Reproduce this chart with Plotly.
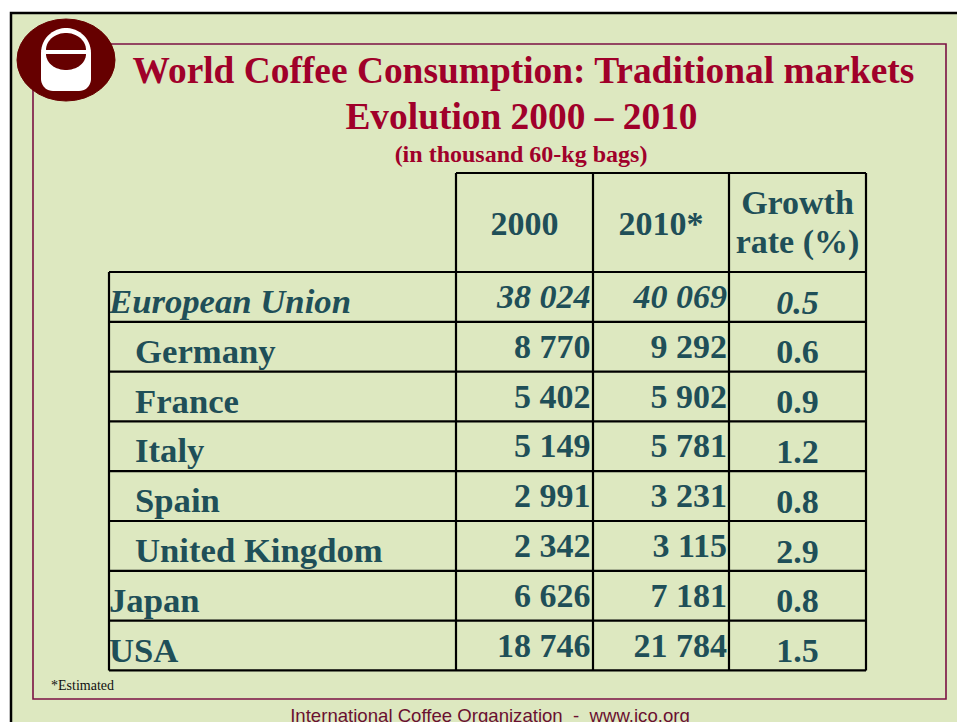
import numpy as np
import plotly.graph_objects as go

# ---------------- data ----------------
title_lines = ["World Coffee Consumption: Traditional markets", "Evolution 2000 \u2013 2010"]
subtitle = "(in thousand 60-kg bags)"
header_line1 = ["2000", "2010*", "Growth"]
header_line2 = ["", "", "rate (%)"]
countries = ["European Union", "Germany", "France", "Italy", "Spain",
             "United Kingdom", "Japan", "USA"]
is_eu_member = [False, True, True, True, True, True, False, False]
is_aggregate = [True, False, False, False, False, False, False, False]
values_2000 = [38024, 8770, 5402, 5149, 2991, 2342, 6626, 18746]
values_2010 = [40069, 9292, 5902, 5781, 3231, 3115, 7181, 21784]
growth_rate = [0.5, 0.6, 0.9, 1.2, 0.8, 2.9, 0.8, 1.5]
footnote = "*Estimated"
footer = "International Coffee Organization\u00a0\u00a0-\u00a0\u00a0www.ico.org"

# ---------------- style / layout constants ----------------
W, H = 957, 722
BG = "#DDE8C0"
TITLE_C = "#A0002A"
TEXT_C = "#1F4F58"
FRAME_C = "#7B1143"
LOGO_C = "#660000"
SERIF = "Liberation Serif, Times New Roman, serif"
SANS = "Liberation Sans, Arial, sans-serif"
COL_X = [109, 456, 593, 729, 866]
HEAD_TOP = 173
ROW_TOP = 272
ROW_H = 49.8
FS = 34
FS_NAME = 34.7
K = 0.25  # baseline offset factor for plotly middle-aligned text

fig = go.Figure()


def add_text(xs, baselines, texts, size, color, family, pos):
    ys = [b - K * size for b in baselines]
    fig.add_trace(go.Scatter(
        x=xs, y=ys, text=texts, mode="text", textposition=pos,
        textfont=dict(size=size, color=color, family=family),
        hoverinfo="skip", showlegend=False, cliponaxis=False))


def fmt(v):
    return f"{v:,}".replace(",", " ")


def wrap(t, agg):
    return f"<b><i>{t}</i></b>" if agg else f"<b>{t}</b>"


n = len(countries)
row_tops = [ROW_TOP + i * ROW_H for i in range(n)]

# names
add_text([COL_X[0] + (26 if m else 0) for m in is_eu_member],
         [t + 41 for t in row_tops],
         [wrap(c, a) for c, a in zip(countries, is_aggregate)],
         FS_NAME, TEXT_C, SERIF, "middle right")
# 2000 values
add_text([COL_X[2] - 2.5] * n, [t + 36 for t in row_tops],
         [wrap(fmt(v), a) for v, a in zip(values_2000, is_aggregate)],
         FS, TEXT_C, SERIF, "middle left")
# 2010 values
add_text([COL_X[3] - 2] * n, [t + 36 for t in row_tops],
         [wrap(fmt(v), a) for v, a in zip(values_2010, is_aggregate)],
         FS, TEXT_C, SERIF, "middle left")
# growth
add_text([(COL_X[3] + COL_X[4]) / 2] * n, [t + 41.5 for t in row_tops],
         [wrap(f"{g:.1f}", a) for g, a in zip(growth_rate, is_aggregate)],
         FS, TEXT_C, SERIF, "middle center")
# headers
hx = [(COL_X[i] + COL_X[i + 1]) / 2 for i in range(1, 4)]
add_text(hx, [235, 235, 214], [f"<b>{h}</b>" for h in header_line1],
         FS, TEXT_C, SERIF, "middle center")
add_text(hx, [253] * 3, [f"<b>{h}</b>" for h in header_line2],
         FS, TEXT_C, SERIF, "middle center")
# titles
add_text([523.5], [83.5], [f"<b>{title_lines[0]}</b>"], 37.4, TITLE_C, SERIF, "middle center")
add_text([521.5], [129], [f"<b>{title_lines[1]}</b>"], 37.4, TITLE_C, SERIF, "middle center")
add_text([521], [161.5], [f"<b>{subtitle}</b>"], 24, TITLE_C, SERIF, "middle center")
add_text([51], [690], [footnote], 14, "#111111", SERIF, "middle right")
add_text([490], [722.5], [footer], 18.6, "#6A1030", SANS, "middle center")

# ---------------- shapes ----------------
shapes = []
# slide background with black edge
shapes.append(dict(type="rect", x0=11, y0=13, x1=980, y1=760,
                   fillcolor=BG, line=dict(color="black", width=2.5), layer="below"))
# inner maroon frame
shapes.append(dict(type="rect", x0=33, y0=44, x1=946, y1=699,
                   line=dict(color=FRAME_C, width=1.6), layer="below"))
# table lines
LW = 2.2
table_bottom = ROW_TOP + n * ROW_H
shapes.append(dict(type="line", x0=COL_X[1], x1=COL_X[4], y0=HEAD_TOP, y1=HEAD_TOP,
                   line=dict(color="black", width=LW)))
for t in row_tops + [table_bottom]:
    shapes.append(dict(type="line", x0=COL_X[0], x1=COL_X[4], y0=t, y1=t,
                       line=dict(color="black", width=LW)))
shapes.append(dict(type="line", x0=COL_X[0], x1=COL_X[0], y0=ROW_TOP, y1=table_bottom,
                   line=dict(color="black", width=LW)))
for cx in COL_X[1:]:
    shapes.append(dict(type="line", x0=cx, x1=cx, y0=HEAD_TOP, y1=table_bottom,
                       line=dict(color="black", width=LW)))


# logo
def poly(pts):
    return "M " + " L ".join(f"{x:.2f},{y:.2f}" for x, y in pts) + " Z"


shapes.append(dict(type="circle", x0=17, x1=115, y0=19, y1=101,
                   fillcolor=LOGO_C, line=dict(color=LOGO_C, width=1)))
cup = []
a = np.linspace(np.pi, 2 * np.pi, 30)
cup += [(66 + 25 * np.cos(t), 53 + 25 * np.sin(t)) for t in a]
a = np.linspace(0, np.pi / 2, 10)
cup += [(79 + 12 * np.cos(t), 79 + 12 * np.sin(t)) for t in a]
a = np.linspace(np.pi / 2, np.pi, 10)
cup += [(53 + 12 * np.cos(t), 79 + 12 * np.sin(t)) for t in a]
shapes.append(dict(type="path", path=poly(cup), fillcolor="white", line=dict(width=0)))
a = np.linspace(np.pi, 2 * np.pi, 30)
top = [(66 + 20 * np.cos(t), 50 + 17 * np.sin(t)) for t in a]
shapes.append(dict(type="path", path=poly(top), fillcolor=LOGO_C, line=dict(width=0)))
a = np.linspace(0, np.pi, 30)
bowl = [(66 + 20 * np.cos(t), 54 + 16 * np.sin(t)) for t in a]
shapes.append(dict(type="path", path=poly(bowl), fillcolor=LOGO_C, line=dict(width=0)))

fig.update_layout(
    width=W, height=H, margin=dict(l=0, r=0, t=0, b=0),
    paper_bgcolor="white", plot_bgcolor="rgba(0,0,0,0)",
    xaxis=dict(range=[0, W], visible=False, fixedrange=True),
    yaxis=dict(range=[H, 0], visible=False, fixedrange=True),
    shapes=shapes, showlegend=False,
)
fig.write_html(
    "out.html",
    config={"displayModeBar": False},
    post_script="document.body.style.margin='0px';document.body.style.overflow='hidden';",
)
